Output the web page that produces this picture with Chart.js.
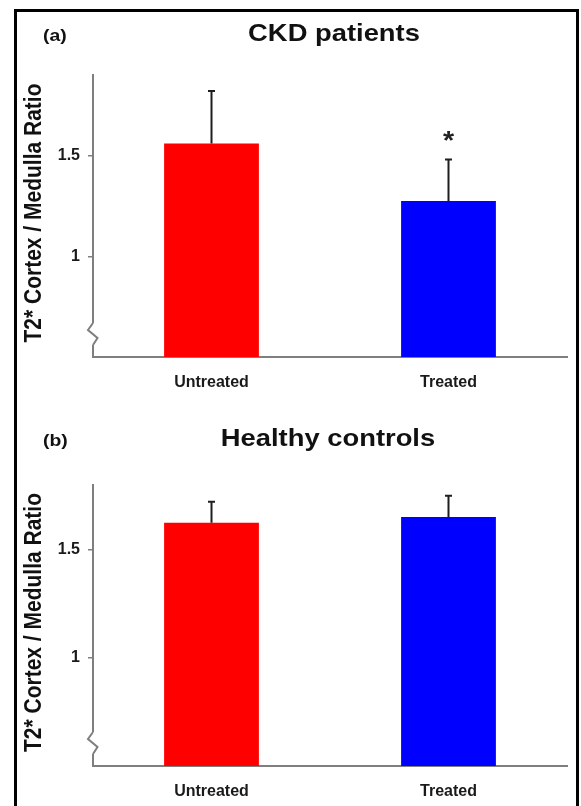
<!DOCTYPE html>
<html>
<head>
<meta charset="utf-8">
<script src="https://cdn.jsdelivr.net/npm/chart.js@4.4.0/dist/chart.umd.min.js"></script>
<style>
html,body{margin:0;padding:0;background:#fff;width:581px;height:806px;overflow:hidden;}
#frame{position:absolute;left:14px;top:9px;width:565px;height:830px;border:3px solid #000;box-sizing:border-box;}
.pane{position:absolute;left:0;}
canvas{display:block;}
</style>
</head>
<body>
<div id="frame"></div>
<div class="pane" style="top:0"><canvas id="ca" width="581" height="400"></canvas></div>
<div class="pane" style="top:400px"><canvas id="cb" width="581" height="406"></canvas></div>
<script>
// ---- data ----
const categories = ['Untreated', 'Treated'];
const barColors = ['#ff0000', '#0000ff'];
const yTickValues = [1, 1.5];
const yAxisTitle = 'T2* Cortex / Medulla Ratio';

const ckdTitle = 'CKD patients';
const ckdTag = '(a)';
const ckdMeans = [1.56, 1.275];
const ckdSD = [0.26, 0.205];
const ckdMarks = ['', '*'];
const ckdYMin = 0.5, ckdYMax = 1.9;

const ctrlTitle = 'Healthy controls';
const ctrlTag = '(b)';
const ctrlMeans = [1.625, 1.652];
const ctrlSD = [0.098, 0.098];
const ctrlMarks = ['', ''];
const ctrlYMin = 0.5, ctrlYMax = 1.8;

const FONT = "'Liberation Sans', Arial, Helvetica, sans-serif";
const SX = 1.14; // horizontal stretch seen in the figure's text

function sText(ctx, txt, x, y, font, sx, align, color) {
  ctx.save();
  ctx.font = font;
  ctx.fillStyle = color;
  ctx.textAlign = align;
  ctx.textBaseline = 'alphabetic';
  ctx.translate(x, y);
  ctx.scale(sx, 1);
  ctx.fillText(txt, 0, 0);
  ctx.restore();
}

function makeChart(id, cfg) {
  const decor = {
    id: 'decor_' + id,
    afterDatasetsDraw(chart) {
      const ctx = chart.ctx;
      const ys = chart.scales.y;
      const meta = chart.getDatasetMeta(0);
      ctx.save();
      meta.data.forEach((bar, i) => {
        const x = bar.x;
        const yTop = ys.getPixelForValue(cfg.means[i]);
        const yErr = ys.getPixelForValue(cfg.means[i] + cfg.sd[i]);
        ctx.strokeStyle = '#1e1e1e';
        ctx.lineWidth = 2;
        ctx.beginPath();
        ctx.moveTo(x, yTop);
        ctx.lineTo(x, yErr);
        ctx.moveTo(x - 3.5, yErr);
        ctx.lineTo(x + 3.5, yErr);
        ctx.stroke();
        if (cfg.marks[i]) {
          sText(ctx, cfg.marks[i], x, yErr - 11, 'bold 26px ' + FONT, 1.1, 'center', '#222');
        }
      });
      ctx.restore();
    },
    afterDraw(chart) {
      const ctx = chart.ctx;
      const a = chart.chartArea;
      const L = a.left, B = a.bottom;
      // axis break squiggle
      ctx.save();
      ctx.fillStyle = '#fff';
      ctx.fillRect(L - 2, B - 34, 4.5, 22);
      ctx.strokeStyle = '#7f7f7f';
      ctx.lineWidth = 2;
      ctx.lineJoin = 'miter';
      ctx.beginPath();
      ctx.moveTo(L, B - 34);
      ctx.lineTo(L - 5, B - 27);
      ctx.lineTo(L + 4.5, B - 19);
      ctx.lineTo(L, B - 12);
      ctx.stroke();
      ctx.restore();
      // panel tag and title
      sText(ctx, cfg.tag, 43, cfg.titleBase, 'bold 17px ' + FONT, SX, 'left', '#111');
      sText(ctx, cfg.title, (a.left + a.right) / 2 + cfg.titleShift, cfg.titleBase, 'bold 24px ' + FONT, SX, 'center', '#111');
      // y axis title (rotated)
      ctx.save();
      ctx.font = 'bold 21px ' + FONT;
      ctx.fillStyle = '#111';
      ctx.textAlign = 'center';
      ctx.textBaseline = 'middle';
      ctx.translate(35, (a.top + a.bottom) / 2 - 3);
      ctx.scale(1.1, 1);
      ctx.rotate(-Math.PI / 2);
      ctx.fillText(yAxisTitle, 0, 0);
      ctx.restore();
    }
  };

  return new Chart(document.getElementById(id), {
    type: 'bar',
    data: {
      labels: categories,
      datasets: [{
        data: cfg.means,
        backgroundColor: barColors,
        borderWidth: 0,
        barPercentage: 0.4,
        categoryPercentage: 1.0
      }]
    },
    options: {
      responsive: false,
      animation: false,
      devicePixelRatio: 1,
      layout: { padding: { left: 0, right: 14, top: cfg.padTop, bottom: 0 } },
      plugins: { legend: { display: false }, title: { display: false }, tooltip: { enabled: false } },
      scales: {
        x: {
          offset: true,
          grid: { display: false, drawTicks: false },
          border: { display: true, color: '#7f7f7f', width: 2 },
          ticks: { color: '#1a1a1a', font: { family: FONT, size: 16, weight: 'bold' }, padding: 16 },
          afterFit(s) { s.height = cfg.xHeight; }
        },
        y: {
          min: cfg.yMin,
          max: cfg.yMax,
          afterBuildTicks(s) { s.ticks = yTickValues.map(v => ({ value: v })); },
          grid: { display: true, drawOnChartArea: false, drawTicks: true, tickLength: 5, color: '#7f7f7f', lineWidth: 1.5 },
          border: { display: true, color: '#7f7f7f', width: 2 },
          ticks: { color: '#1a1a1a', font: { family: FONT, size: 16, weight: 'bold' }, padding: 8,
                   callback: v => String(v) },
          afterFit(s) { s.width = 93; }
        }
      }
    },
    plugins: [decor]
  });
}

makeChart('ca', { means: ckdMeans, sd: ckdSD, marks: ckdMarks, yMin: ckdYMin, yMax: ckdYMax,
  title: ckdTitle, tag: ckdTag, titleBase: 41, titleShift: 4, padTop: 75, xHeight: 43 });
makeChart('cb', { means: ctrlMeans, sd: ctrlSD, marks: ctrlMarks, yMin: ctrlYMin, yMax: ctrlYMax,
  title: ctrlTitle, tag: ctrlTag, titleBase: 46, titleShift: -2, padTop: 85, xHeight: 40 });
</script>
</body>
</html>
